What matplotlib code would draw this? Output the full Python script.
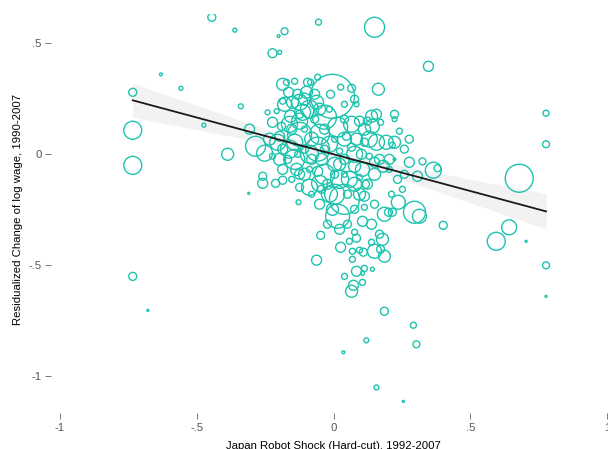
import matplotlib
matplotlib.use("Agg")
import matplotlib.pyplot as plt
import numpy as np

# robot shock (x), residualized wage change (y), weight (circle area)
shock = [-0.445, -0.361, -0.055, 0.150, -0.179, -0.201, -0.223, -0.197, 0.347, -0.631,
         -0.558, -0.734, -0.339, -0.474, -0.734, -0.734, -0.387, 0.777, 0.777, 0.679,
         0.595, 0.642, 0.704, 0.777, 0.777, -0.734, -0.679, 0.292, 0.303, 0.120,
         0.036, 0.157, 0.255, 0.186, 0.401, -0.310, -0.128, -0.259, -0.212, -0.186,
         -0.307, -0.241, -0.285, -0.252, 0.164, -0.004, 0.325, 0.365, 0.380, 0.307,
         0.252, 0.237, 0.296, 0.314, 0.186, 0.201, 0.215, 0.179, 0.186, 0.172,
         0.168, 0.193, 0.223, 0.215, 0.223, 0.172, 0.182, -0.047, -0.062, 0.026,
         0.058, 0.084, 0.069, 0.095, 0.109, 0.069, 0.084, 0.113, 0.142, 0.040,
         0.073, 0.066, 0.106, 0.106, 0.150, 0.139, 0.150, 0.051, 0.077, 0.106,
         0.015, 0.040, -0.015, -0.051, 0.113, 0.124, -0.172, -0.142, -0.186, -0.164,
         -0.131, -0.186, -0.150, -0.124, -0.095, -0.099, -0.058, 0.026, 0.066, -0.011,
         -0.084, -0.062, -0.088, -0.208, -0.223, -0.190, -0.197, -0.157, -0.124, -0.113,
         -0.153, -0.204, -0.142, -0.186, -0.223, -0.168, -0.186, -0.135, -0.259, 0.066,
         0.095, 0.124, 0.139, 0.157, 0.142, 0.084, 0.113, 0.066, 0.102, 0.157,
         0.131, 0.040, 0.077, 0.106, 0.150, 0.047, 0.015, -0.033, -0.051, -0.015,
         -0.080, -0.088, -0.044, 0.004, -0.058, -0.106, 0.022, -0.022, 0.077, 0.051,
         -0.124, -0.080, -0.033, 0.022, -0.069, -0.015, -0.106, -0.131, 0.004, 0.040,
         0.095, 0.117, -0.051, -0.004, -0.022, 0.077, 0.113, 0.139, 0.022, -0.088,
         -0.153, -0.106, 0.040, 0.084, 0.204, 0.234, 0.212, 0.259, 0.277, 0.241,
         0.223, -0.124, -0.058, -0.142, -0.033, -0.088, -0.161, -0.179, -0.106, -0.051,
         0.040, 0.077, 0.131, 0.113, 0.022, 0.058, 0.004, 0.095, -0.124, -0.197,
         -0.234, -0.161, -0.069, -0.033, -0.080, 0.168, 0.150, 0.204, 0.259, 0.223,
         0.277, 0.077, 0.040, -0.124, 0.004, -0.044]
wage = [0.617, 0.559, 0.595, 0.572, 0.554, 0.532, 0.455, 0.459, 0.396, 0.360,
        0.297, 0.279, 0.216, 0.131, 0.108, -0.050, 0.000, 0.185, 0.045, -0.108,
        -0.392, -0.329, -0.392, -0.500, -0.640, -0.550, -0.703, -0.770, -0.856, -0.838,
        -0.892, -1.050, -1.113, -0.707, -0.320, -0.176, -0.216, -0.131, -0.131, -0.117,
        0.113, 0.189, 0.036, 0.005, 0.293, 0.261, -0.032, -0.072, -0.063, -0.099,
        -0.158, -0.216, -0.261, -0.279, -0.270, -0.261, -0.261, -0.383, -0.459, -0.428,
        -0.360, 0.054, 0.054, 0.041, -0.023, 0.144, -0.054, -0.365, -0.477, -0.419,
        -0.392, -0.378, -0.437, -0.432, -0.441, -0.473, -0.527, -0.514, -0.518, -0.550,
        -0.590, -0.617, -0.577, -0.536, -0.225, -0.396, -0.437, -0.315, -0.351, -0.302,
        -0.279, -0.203, -0.180, -0.131, -0.189, -0.135, 0.324, 0.329, 0.315, 0.279,
        0.270, 0.239, 0.234, 0.234, 0.324, 0.279, 0.347, 0.302, 0.297, 0.270,
        0.324, 0.234, 0.203, 0.194, 0.144, 0.126, 0.081, 0.171, 0.149, 0.189,
        0.113, 0.054, 0.054, 0.023, -0.009, -0.023, -0.068, -0.068, -0.099, 0.135,
        0.149, 0.149, 0.171, 0.180, 0.126, 0.068, 0.054, 0.032, 0.000, 0.054,
        -0.009, -0.023, -0.054, -0.068, -0.036, 0.081, 0.122, 0.167, 0.090, 0.045,
        0.068, 0.000, -0.023, -0.045, -0.077, -0.090, -0.113, -0.135, -0.135, -0.180,
        -0.149, -0.180, 0.023, 0.014, 0.158, 0.203, 0.023, 0.000, 0.068, -0.090,
        -0.104, -0.135, -0.225, -0.248, -0.315, -0.248, -0.239, -0.315, -0.338, -0.068,
        -0.113, 0.113, 0.225, 0.225, -0.068, -0.113, -0.180, 0.023, -0.036, 0.104,
        0.158, 0.090, 0.023, -0.023, -0.090, -0.149, 0.135, 0.225, 0.248, 0.203,
        0.068, 0.000, 0.068, 0.113, -0.045, -0.113, -0.180, -0.180, -0.090, -0.023,
        0.068, 0.023, 0.270, 0.113, -0.023, -0.023, -0.090, -0.023, -0.090, 0.180,
        0.068, 0.248, 0.158, 0.180, -0.090, -0.158]
weight = [16, 4, 9, 100, 12, 2, 20, 4, 25, 2,
          4, 16, 6, 4, 81, 81, 36, 9, 12, 196,
          81, 56, 1, 12, 1, 16, 1, 9, 12, 6,
          2, 6, 1, 16, 16, 1, 6, 25, 16, 16,
          25, 6, 100, 64, 36, 484, 12, 64, 12, 25,
          9, 49, 121, 49, 49, 16, 16, 36, 36, 16,
          16, 49, 36, 9, 2, 9, 36, 16, 25, 25,
          9, 16, 9, 9, 16, 9, 25, 9, 4, 9,
          25, 36, 9, 4, 16, 9, 49, 16, 9, 25,
          144, 225, 64, 64, 25, 25, 9, 9, 36, 25,
          25, 9, 36, 64, 16, 36, 9, 9, 16, 16,
          9, 49, 81, 6, 25, 16, 25, 36, 64, 64,
          25, 64, 64, 25, 9, 16, 25, 36, 16, 64,
          25, 16, 36, 25, 49, 36, 16, 16, 25, 64,
          9, 25, 36, 49, 25, 16, 100, 144, 100, 64,
          49, 81, 36, 49, 25, 36, 81, 25, 49, 16,
          16, 9, 16, 9, 16, 9, 16, 9, 9, 9,
          9, 16, 25, 36, 16, 16, 9, 25, 25, 9,
          9, 9, 9, 6, 9, 16, 9, 16, 25, 9,
          6, 144, 144, 100, 100, 64, 64, 49, 36, 36,
          49, 64, 64, 36, 36, 64, 100, 36, 25, 36,
          36, 81, 25, 25, 25, 25, 36, 25, 16, 16,
          16, 16, 16, 16, 16, 16]

# weighted linear fit
fit_intercept = 0.0
fit_slope = -0.331
ci_center = 0.01
ci_base = 0.02
ci_spread = 0.10

x_ticks = [-1, -0.5, 0, 0.5, 1]
x_ticklabels = ["-1", "-.5", "0", ".5", "1"]
y_ticks = [-1, -0.5, 0, 0.5]
y_ticklabels = ["-1", "-.5", "0", ".5"]

teal = "#1ec3ae"

plt.rcParams['font.family'] = ['Liberation Sans', 'DejaVu Sans']

fig = plt.figure(figsize=(6.08, 4.49), dpi=100)
ax = fig.add_axes([0.0987, 0.0976, 0.8997, 0.8704])

xs = np.array(shock)
xf = np.linspace(xs.min(), xs.max(), 100)
yf = fit_intercept + fit_slope * xf
hw = np.sqrt(ci_base ** 2 + (ci_spread * (xf - ci_center)) ** 2)
ax.fill_between(xf, yf - hw, yf + hw, color="#f2f2f2", lw=0, zorder=1)
ax.scatter(shock, wage, s=np.array(weight) * 2.07, facecolors="none",
           edgecolors=teal, linewidths=1.0, zorder=2)
ax.plot(xf, yf, color="#1a1a1a", lw=1.3, zorder=3)

ax.set_xlim(-1, 1)
ax.set_ylim(-1.13, 0.63)
for side in ["top", "right"]:
    ax.spines[side].set_visible(False)
ax.spines["left"].set_position(("outward", 6.5))
ax.spines["bottom"].set_position(("outward", 5.8))
ax.spines["left"].set_color("none")
ax.spines["bottom"].set_color("none")

ax.set_xticks(x_ticks)
ax.set_xticklabels(x_ticklabels)
ax.set_yticks(y_ticks)
ax.set_yticklabels(y_ticklabels)
ax.tick_params(axis="both", direction="out", length=4.3, width=0.7,
               color="#777777", labelcolor="#555555", labelsize=8.2, pad=2.5)

ax.set_xlabel("Japan Robot Shock (Hard-cut), 1992-2007", fontsize=8.2)
ax.set_ylabel("Residualized Change of log wage, 1990-2007", fontsize=8.2)
ax.xaxis.set_label_coords(0.5, -0.092)
ax.yaxis.set_label_coords(-0.068, 0.5)

fig.savefig("out.png", dpi=100)
